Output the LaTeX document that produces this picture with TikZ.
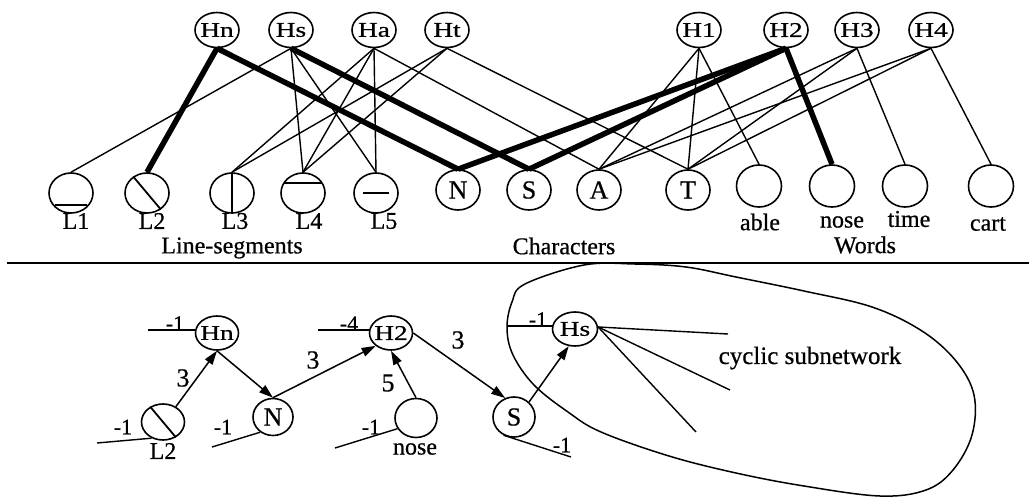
\documentclass[tikz,border=0pt]{standalone}
\usepackage{fontspec}
\usepackage{graphicx}
\setmainfont{Liberation Serif}[FakeBold=0.6]
\newcommand{\hx}[1]{\scalebox{1.3}[1]{#1}}
\usetikzlibrary{shapes.geometric,arrows.meta,calc}
\begin{document}
\begin{tikzpicture}[x=1pt,y=-1pt,
  hid/.style={ellipse, draw, line width=1.6pt, minimum width=44pt, minimum height=35pt, inner sep=-6pt, font=\fontsize{21}{21}\selectfont},
  unit/.style={ellipse, draw, line width=1.6pt, minimum width=44pt, minimum height=40pt, inner sep=-4pt, font=\fontsize{26}{26}\selectfont},
  lab/.style={inner sep=0pt, font=\fontsize{24}{24}\selectfont},
  wlab/.style={inner sep=0pt, font=\fontsize{26}{26}\selectfont},
  blab/.style={inner sep=0pt, font=\fontsize{22}{22}\selectfont},
  thinedge/.style={line width=1.4pt},
  heavy/.style={line width=5.5pt},
  arr/.style={line width=1.5pt, -{Triangle[length=14pt,width=9pt]}},
  segmark/.style={line width=1.8pt}
]
\path[use as bounding box] (0,0) rectangle (1029,498);

% ---------- top: hidden units ----------
\node[hid] (Hn) at (217,30) {\hx{Hn}};
\node[hid] (Hs) at (291,30) {\hx{Hs}};
\node[hid] (Ha) at (374,30) {\hx{Ha}};
\node[hid] (Ht) at (447,30) {\hx{Ht}};
\node[hid] (H1) at (699,30) {\hx{H1}};
\node[hid] (H2) at (786,30) {\hx{H2}};
\node[hid] (H3) at (857,30) {\hx{H3}};
\node[hid] (H4) at (931,30) {\hx{H4}};

% ---------- line segments ----------
\node[unit] (L1) at (71,193) {};
\node[unit] (L2) at (147,193) {};
\node[unit] (L3) at (232,193) {};
\node[unit] (L4) at (303,193) {};
\node[unit] (L5) at (376,193) {};
\draw[segmark] ($(L1.center)+(-16,12)$) -- ++(32,0);
\draw[segmark] (L2.130) -- (L2.-50);
\draw[segmark] (L3.north) -- (L3.south);
\draw[segmark] ($(L4.center)+(-19,-10)$) -- ++(38,0);
\draw[segmark] ($(L5.center)+(-13,0)$) -- ++(26,0);
\node[lab] (tL1) at (76,221) {L1};
\node[lab] (tL2) at (152,221) {L2};
\node[lab] (tL3) at (235,221) {L3};
\node[lab] (tL4) at (309,221) {L4};
\node[lab] (tL5) at (384,221) {L5};

% ---------- characters ----------
\node[unit] (N) at (458,190) {N};
\node[unit] (S) at (529,190) {S};
\node[unit] (A) at (599,190) {A};
\node[unit] (T) at (688,190) {T};

% ---------- words ----------
\node[unit, minimum width=45pt, minimum height=42pt] (able) at (759,186) {};
\node[unit, minimum width=45pt, minimum height=42pt] (nose) at (832,186) {};
\node[unit, minimum width=45pt, minimum height=42pt] (time) at (905,186) {};
\node[unit, minimum width=45pt, minimum height=42pt] (cart) at (991,186) {};
\node[lab] (table) at (760,222) {able};
\node[lab] (tnose) at (842,222) {nose};
\node[lab] (ttime) at (909,219) {time};
\node[lab] (tcart) at (988,224) {cart};

\node[lab] (tLS) at (232,248) {Line-segments};
\node[lab] (tCh) at (564,246) {Characters};
\node[lab] (tWo) at (865,245) {Words};

% ---------- top edges ----------
\draw[heavy] (Hn.south) -- (L2.north);
\draw[heavy] (Hn.south) -- (N.north);
\draw[thinedge] (Hs.south) -- (L1.north);
\draw[thinedge] (Hs.south) -- (L4.north);
\draw[thinedge] (Hs.south) -- (L5.north);
\draw[heavy] (Hs.south) -- (S.north);
\draw[thinedge] (Ha.south) -- (L3.north);
\draw[thinedge] (Ha.south) -- (L4.north);
\draw[thinedge] (Ha.south) -- (L5.north);
\draw[thinedge] (Ha.south) -- (A.north);
\draw[thinedge] (Ht.south) -- (L3.north);
\draw[thinedge] (Ht.south) -- (L4.north);
\draw[thinedge] (Ht.south) -- (T.north);
\draw[thinedge] (H1.south) -- (A.north);
\draw[thinedge] (H1.south) -- (T.north);
\draw[thinedge] (H1.south) -- (able.north);
\draw[heavy] (H2.south) -- (N.north);
\draw[heavy] (H2.south) -- (S.north);
\draw[heavy] (H2.south) -- (nose.north);
\draw[thinedge] (H3.south) -- (A.north);
\draw[thinedge] (H3.south) -- (T.north);
\draw[thinedge] (H3.south) -- (time.north);
\draw[thinedge] (H4.south) -- (A.north);
\draw[thinedge] (H4.south) -- (T.north);
\draw[thinedge] (H4.south) -- (cart.north);

% ---------- separator ----------
\draw[line width=1.8pt] (7,263) -- (1029,263);

% ---------- bottom: cyclic subnetwork ----------
\draw[line width=1.5pt] plot[smooth cycle, tension=0.6] coordinates {
  (525,284) (584,265) (635,264) (686,267) (736,277) (804,291) (872,307)
  (922,331) (956,361) (974,395) (972,435) (953,470) (926,490) (880,496)
  (804,486) (736,473) (669,456) (601,432) (568,412) (534,385) (513,355)
  (507,328) (512,302)};
\node[lab, font=\fontsize{25}{25}\selectfont] (cyc) at (810,358) {cyclic subnetwork};

\node[hid, minimum width=43pt, minimum height=34pt] (Hnb) at (217,333) {\hx{Hn}};
\node[hid, minimum width=43pt, minimum height=34pt] (H2b) at (391,333) {\hx{H2}};
\node[hid, minimum width=45pt, minimum height=34pt] (Hsb) at (575,329) {\hx{Hs}};
\node[unit, minimum width=43pt, minimum height=36pt] (L2b) at (163,422) {};
\draw[segmark] (L2b.130) -- (L2b.-50);
\node[unit, minimum width=40pt, minimum height=37pt] (Nb) at (273,417) {N};
\node[unit, minimum width=42pt, minimum height=39pt] (noseb) at (416,418) {};
\node[unit, minimum width=42pt, minimum height=40pt] (Sb) at (514,417) {S};
\node[lab] (tL2b) at (163,451) {L2};
\node[lab] (tnoseb) at (415,449) {nose};

% arrows
\draw[arr] (L2b.50) -- (Hnb.south);
\draw[arr] (Hnb.south) -- (Nb.north);
\draw[arr] (Nb.north) -- (H2b.-140);
\draw[arr] (noseb.north) -- (H2b.south);
\draw[arr] (H2b.east) -- (Sb.115);
\draw[arr] (Sb.45) -- (Hsb.-110);
\node[wlab] (w1) at (183,378) {3};
\node[wlab] (w2) at (313,360) {3};
\node[wlab] (w3) at (388,383) {5};
\node[wlab] (w4) at (458,340) {3};

% biases
\coordinate (bHn) at (148,330);
\coordinate (bH2) at (318,330);
\coordinate (bL2) at (97,443);
\coordinate (bN) at (212,447);
\coordinate (bnose) at (335,448);
\coordinate (bHs) at (507,326);
\coordinate (bS) at (571,457);
\draw[thinedge] (bHn) -- (Hnb.west |- bHn);
\draw[thinedge] (bH2) -- (H2b.west |- bH2);
\draw[thinedge] (bL2) -- (L2b.-125);
\draw[thinedge] (bN) -- (Nb.-130);
\draw[thinedge] (bnose) -- (noseb.-150);
\draw[thinedge] (bHs) -- (Hsb.west |- bHs);
\draw[thinedge] (Sb.-120) -- (bS);
\node[blab, anchor=south] (bl1) at (175,331) {-1};
\node[blab, anchor=south] (bl2) at (349,331) {-4};
\node[blab] (bl3) at (123,427) {-1};
\node[blab] (bl4) at (223,427) {-1};
\node[blab] (bl5) at (371,427) {-1};
\node[blab, anchor=south] (bl6) at (538,327) {-1};
\node[blab] (bl7) at (562,445) {-1};

% Hs rays
\coordinate (r1) at (728,334);
\coordinate (r2) at (730,390);
\coordinate (r3) at (696,432);
\draw[thinedge] (Hsb.5) -- (r1);
\draw[thinedge] (Hsb.5) -- (r2);
\draw[thinedge] (Hsb.5) -- (r3);
\end{tikzpicture}
\end{document}
